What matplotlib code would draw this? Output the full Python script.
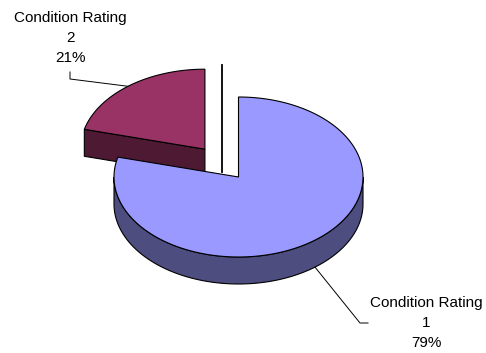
import numpy as np
import matplotlib.pyplot as plt
from matplotlib.patches import Polygon

categories = ["1", "2"]
values = [79, 21]
top_colors = ["#9999FF", "#993366"]
side_colors = ["#4D4D80", "#4D1933"]

# pie geometry in pixel units
cx, cy = 238.5, 177.0
a, b = 124.5, 80.0
depth = 27.0
explode = [0.0, 0.44]

plt.rcParams['font.family'] = ['Liberation Sans', 'DejaVu Sans']

fig = plt.figure(figsize=(4.86, 3.53), dpi=100)
ax = fig.add_axes([0, 0, 1, 1])
ax.set_xlim(0, 486)
ax.set_ylim(353, 0)
ax.axis('off')

total = float(sum(values))
fracs = [v / total for v in values]


def rim(ox, oy, t, dz=0.0):
    return ox + a * np.cos(t), oy - b * np.sin(t) + dz


# slice angles (start at 12 o'clock, clockwise)
slices = []
start = np.pi / 2
for f, e in zip(fracs, explode):
    end = start - 2 * np.pi * f
    mid = (start + end) / 2
    ox = cx + e * a * np.cos(mid)
    oy = cy - e * b * np.sin(mid)
    slices.append((start, end, ox, oy))
    start = end

# --- slice 2 (back, exploded) ---
s, e_, ox, oy = slices[1]
# front radial face at angle s (start of slice 2 = end of slice 1)
px, py = rim(ox, oy, s)
face = [(ox, oy), (px, py), (px, py + depth), (ox, oy + depth)]
ax.add_patch(Polygon(face, closed=True, fc=side_colors[1], ec='black', lw=0.8))
t = np.linspace(s, e_, 60)
xs, ys = rim(ox, oy, t)
top = [(ox, oy)] + list(zip(xs, ys))
ax.add_patch(Polygon(top, closed=True, fc=top_colors[1], ec='black', lw=0.8))

# artifact edge line between the slices
ax.plot([cx - 17, cx - 17], [oy - b - 4, cy - 5], color='black', lw=1.3)

# --- slice 1 (front) ---
s, e_, ox, oy = slices[0]
t = np.linspace(np.pi, 2 * np.pi, 100)
xs, ys = rim(ox, oy, t)
side = list(zip(xs, ys)) + list(zip(xs[::-1], ys[::-1] + depth))
ax.add_patch(Polygon(side, closed=True, fc=side_colors[0], ec='black', lw=0.8))
t = np.linspace(s, e_, 200)
xs, ys = rim(ox, oy, t)
top = [(ox, oy)] + list(zip(xs, ys))
ax.add_patch(Polygon(top, closed=True, fc=top_colors[0], ec='black', lw=0.8))

# --- labels with leader lines ---
pcts = [round(f * 100) for f in fracs]
label_pos = [(426.5, 323), (70, 38)]
for i, (cat, p) in enumerate(zip(categories, pcts)):
    lx, ly = label_pos[i]
    ax.text(lx, ly, "Condition Rating\n%s\n%d%%" % (cat, p), ha='center',
            va='center', fontsize=11, linespacing=1.55)

# leader for slice 1: from bottom rim of side to label
s, e_, ox, oy = slices[0]
tl = -np.arccos((315 - ox) / a)
x0, y0 = rim(ox, oy, tl, depth)
ax.plot([x0, 360, 368], [y0, 323, 323], color='black', lw=0.7)

# leader for slice 2: from top rim to label
s, e_, ox, oy = slices[1]
tl = np.arccos((128 - ox) / a)
x0, y0 = rim(ox, oy, tl)
ax.plot([x0, 70, 70], [y0, 79, 72], color='black', lw=0.7)

fig.savefig('out.png', dpi=100)
